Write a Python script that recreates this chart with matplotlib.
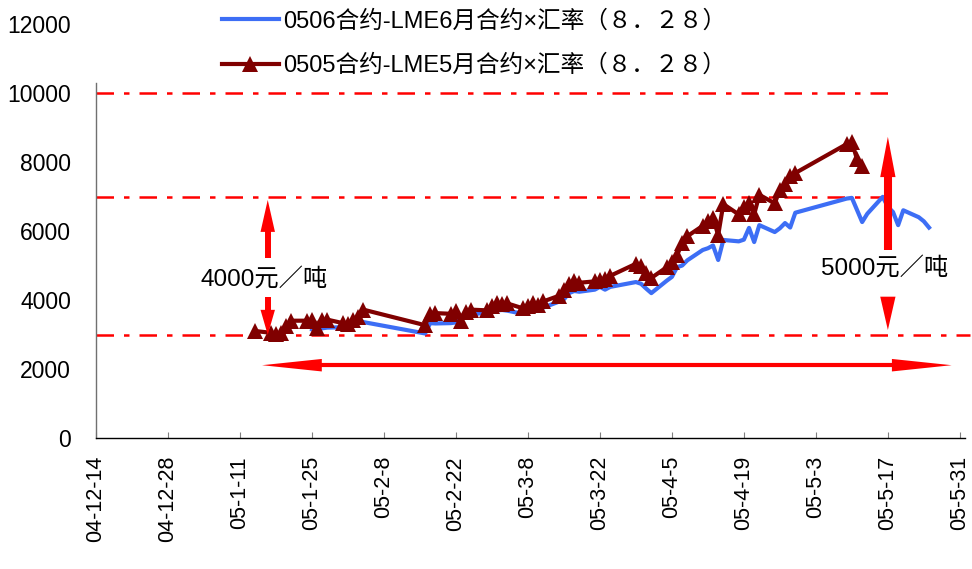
import matplotlib
matplotlib.use("Agg")
import matplotlib.pyplot as plt
import matplotlib.dates as mdates
import pandas as pd
import numpy as np

plt.rcParams['font.family'] = ['Liberation Sans', 'Noto Sans CJK SC', 'DejaVu Sans']

# ---------------- data ----------------
red_dates = ['2005-01-14', '2005-01-17', '2005-01-18', '2005-01-19', '2005-01-20', '2005-01-21',
             '2005-01-24', '2005-01-25', '2005-01-26', '2005-01-27', '2005-01-28',
             '2005-01-31', '2005-02-01', '2005-02-02', '2005-02-03', '2005-02-04',
             '2005-02-16', '2005-02-17', '2005-02-18',
             '2005-02-21', '2005-02-22', '2005-02-23', '2005-02-24', '2005-02-25',
             '2005-02-28', '2005-03-01', '2005-03-02', '2005-03-03', '2005-03-04',
             '2005-03-07', '2005-03-08', '2005-03-09', '2005-03-10', '2005-03-11',
             '2005-03-14', '2005-03-15', '2005-03-16', '2005-03-17', '2005-03-18',
             '2005-03-21', '2005-03-22', '2005-03-23', '2005-03-24',
             '2005-03-29', '2005-03-30', '2005-03-31', '2005-04-01',
             '2005-04-04', '2005-04-05', '2005-04-06', '2005-04-07', '2005-04-08',
             '2005-04-11', '2005-04-12', '2005-04-13', '2005-04-14', '2005-04-15',
             '2005-04-18', '2005-04-19', '2005-04-20', '2005-04-21', '2005-04-22',
             '2005-04-25', '2005-04-26', '2005-04-27', '2005-04-28', '2005-04-29',
             '2005-05-09', '2005-05-10', '2005-05-11', '2005-05-12']
red_values = [3100, 3050, 3020, 3040, 3250, 3400,
              3400, 3420, 3200, 3420, 3430,
              3330, 3300, 3420, 3500, 3720,
              3270, 3600, 3620,
              3600, 3680, 3400, 3650, 3720,
              3700, 3820, 3920, 3880, 3900,
              3760, 3820, 3900, 3860, 3960,
              4120, 4300, 4450, 4560, 4500,
              4540, 4580, 4620, 4700,
              5050, 4980, 4780, 4640,
              4950, 5100, 5300, 5650, 5850,
              6150, 6280, 6380, 5880, 6780,
              6480, 6700, 6800, 6480, 7050,
              6800, 7200, 7350, 7600, 7680,
              8520, 8580, 8080, 7880]

blue_dates = ['2005-01-25', '2005-01-26', '2005-01-27', '2005-01-28',
              '2005-01-31', '2005-02-01', '2005-02-02', '2005-02-03', '2005-02-04',
              '2005-02-16', '2005-02-17', '2005-02-18',
              '2005-02-21', '2005-02-22', '2005-02-23', '2005-02-24', '2005-02-25',
              '2005-02-28', '2005-03-01', '2005-03-02', '2005-03-03', '2005-03-04',
              '2005-03-07', '2005-03-08', '2005-03-09', '2005-03-10', '2005-03-11',
              '2005-03-14', '2005-03-15', '2005-03-16', '2005-03-17', '2005-03-18',
              '2005-03-21', '2005-03-22', '2005-03-23', '2005-03-24',
              '2005-03-29', '2005-03-30', '2005-03-31', '2005-04-01',
              '2005-04-04', '2005-04-05', '2005-04-06', '2005-04-07', '2005-04-08',
              '2005-04-11', '2005-04-12', '2005-04-13', '2005-04-14', '2005-04-15',
              '2005-04-18', '2005-04-19', '2005-04-20', '2005-04-21', '2005-04-22',
              '2005-04-25', '2005-04-26', '2005-04-27', '2005-04-28', '2005-04-29',
              '2005-05-09', '2005-05-10', '2005-05-11', '2005-05-12', '2005-05-13',
              '2005-05-16', '2005-05-17', '2005-05-18', '2005-05-19', '2005-05-20',
              '2005-05-23', '2005-05-24', '2005-05-25']
blue_values = [3150, 3130, 3180, 3200,
               3210, 3260, 3330, 3340, 3360,
               3030, 3330, 3320,
               3330, 3350, 3460, 3520, 3570,
               3650, 3680, 3700, 3710, 3690,
               3600, 3630, 3700, 3720, 3780,
               3950, 4020, 4200, 4260, 4240,
               4300, 4380, 4300, 4380,
               4520, 4470, 4330, 4200,
               4560, 4670, 4950, 5000, 5150,
               5450, 5500, 5580, 5160, 5740,
               5700, 5750, 6090, 5680, 6170,
               5970, 6080, 6230, 6100, 6530,
               6940, 6960, 6610, 6260, 6500,
               6990, 6700, 6550, 6170, 6600,
               6400, 6280, 6100]

blue_label = '0506合约-LME6月合约×汇率（８．２８）'
red_label = '0505合约-LME5月合约×汇率（８．２８）'

tick_labels = ['04-12-14', '04-12-28', '05-1-11', '05-1-25', '05-2-8', '05-2-22', '05-3-8',
               '05-3-22', '05-4-5', '05-4-19', '05-5-3', '05-5-17', '05-5-31']
y_ticks = [0, 2000, 4000, 6000, 8000, 10000, 12000]

ref_levels = [10000, 7000, 3000]
ref_ends = ['2005-05-17', '2005-05-17', '2005-06-02']

spread_low_text = '4000元／吨'
spread_high_text = '5000元／吨'

# ---------------- figure ----------------
W, H = 972, 569
fig = plt.figure(figsize=(W / 100, H / 100), dpi=100)
fig.patch.set_facecolor('white')
ax = fig.add_axes([96 / W, 1 - 438 / H, (965 - 96) / W, (438 - 24) / H])

x0 = pd.Timestamp('2004-12-14')
ax.set_xlim(mdates.date2num(x0), mdates.date2num(pd.Timestamp('2005-06-01')))
ax.set_ylim(0, 12000)

RED = '#FF0000'
DARKRED = '#800000'
BLUE = '#3D6EF5'

# reference dash-dot lines
for lev, end in zip(ref_levels, ref_ends):
    ax.plot([x0, pd.Timestamp(end)], [lev, lev], color=RED, lw=1.8,
            dashes=(7, 4, 2.2, 4), clip_on=False, zorder=1)

bd = pd.to_datetime(blue_dates)
rd = pd.to_datetime(red_dates)
ax.plot(bd, blue_values, color=BLUE, lw=3.0, label=blue_label, zorder=3,
        solid_joinstyle='round')
ax.plot(rd, red_values, color=DARKRED, lw=3.0, marker='^', markersize=12,
        markeredgewidth=0, label=red_label, zorder=4, solid_joinstyle='round')

# ---------------- arrows ----------------
def head(tip, base, hl, hw, style='-|>'):
    ax.annotate('', xy=tip, xytext=base,
                arrowprops=dict(arrowstyle=f'{style},head_length={hl},head_width={hw}',
                                mutation_scale=1, lw=0, color=RED,
                                shrinkA=0, shrinkB=0), zorder=6, annotation_clip=False)

d = lambda days: mdates.date2num(x0) + days

# left 4000 arrow
xl = d(33.4)
ax.plot([xl, xl], [5220, 6200], color=RED, lw=4.3, solid_capstyle='butt', zorder=6)
head((xl, 6900), (xl, 5220), 23, 5.2)
ax.plot([xl, xl], [3600, 4100], color=RED, lw=4.3, solid_capstyle='butt', zorder=6)
head((xl, 2990), (xl, 4100), 18, 5.2)
ax.text(d(32.6), 4600, spread_low_text, fontsize=17.5, ha='center', va='center', zorder=7)

# right 5000 arrow
xr = d(154)
ax.plot([xr, xr], [5450, 7800], color=RED, lw=5.8, solid_capstyle='butt', zorder=6)
head((xr, 8730), (xr, 5450), 29, 5.5)
head((xr, 3130), (xr, 4100), 24, 5.5)
ax.text(d(153.3), 4930, spread_high_text, fontsize=17.5, ha='center', va='center', zorder=7)

# horizontal double arrow
yh = 2110
ax.plot([d(40), d(158)], [yh, yh], color=RED, lw=3.0, solid_capstyle='butt', zorder=6)
head((d(32.3), yh), (d(95), yh), 43, 4.5)
head((d(166.4), yh), (d(95), yh), 43, 4.5)

# ---------------- axes styling ----------------
ax.spines['top'].set_visible(False)
ax.spines['right'].set_visible(False)
ax.spines['left'].set_color('#707070')
ax.spines['left'].set_linewidth(1.0)
ax.spines['left'].set_bounds(0, 10300)
ax.spines['bottom'].set_color('black')
ax.spines['bottom'].set_linewidth(1.0)

tick_pos = pd.date_range(x0, periods=len(tick_labels), freq='14D')
ax.set_xticks(mdates.date2num(tick_pos))
ax.set_xticklabels(tick_labels, rotation=90, fontsize=15.5)
ax.tick_params(axis='x', direction='in', length=4, color='#808080', pad=13)
ax.set_yticks(y_ticks)
ax.set_yticklabels([str(v) for v in y_ticks], fontsize=16.5)
ax.tick_params(axis='y', length=0, pad=18)

leg = ax.legend(loc='upper left', bbox_to_anchor=(222 / W, 1 - 10 / H),
                bbox_transform=fig.transFigure, frameon=False, fontsize=17,
                handlelength=2.4, handletextpad=0.2, labelspacing=0.93,
                borderpad=0, borderaxespad=0, numpoints=1)

fig.savefig('out.png', dpi=100, facecolor='white')
